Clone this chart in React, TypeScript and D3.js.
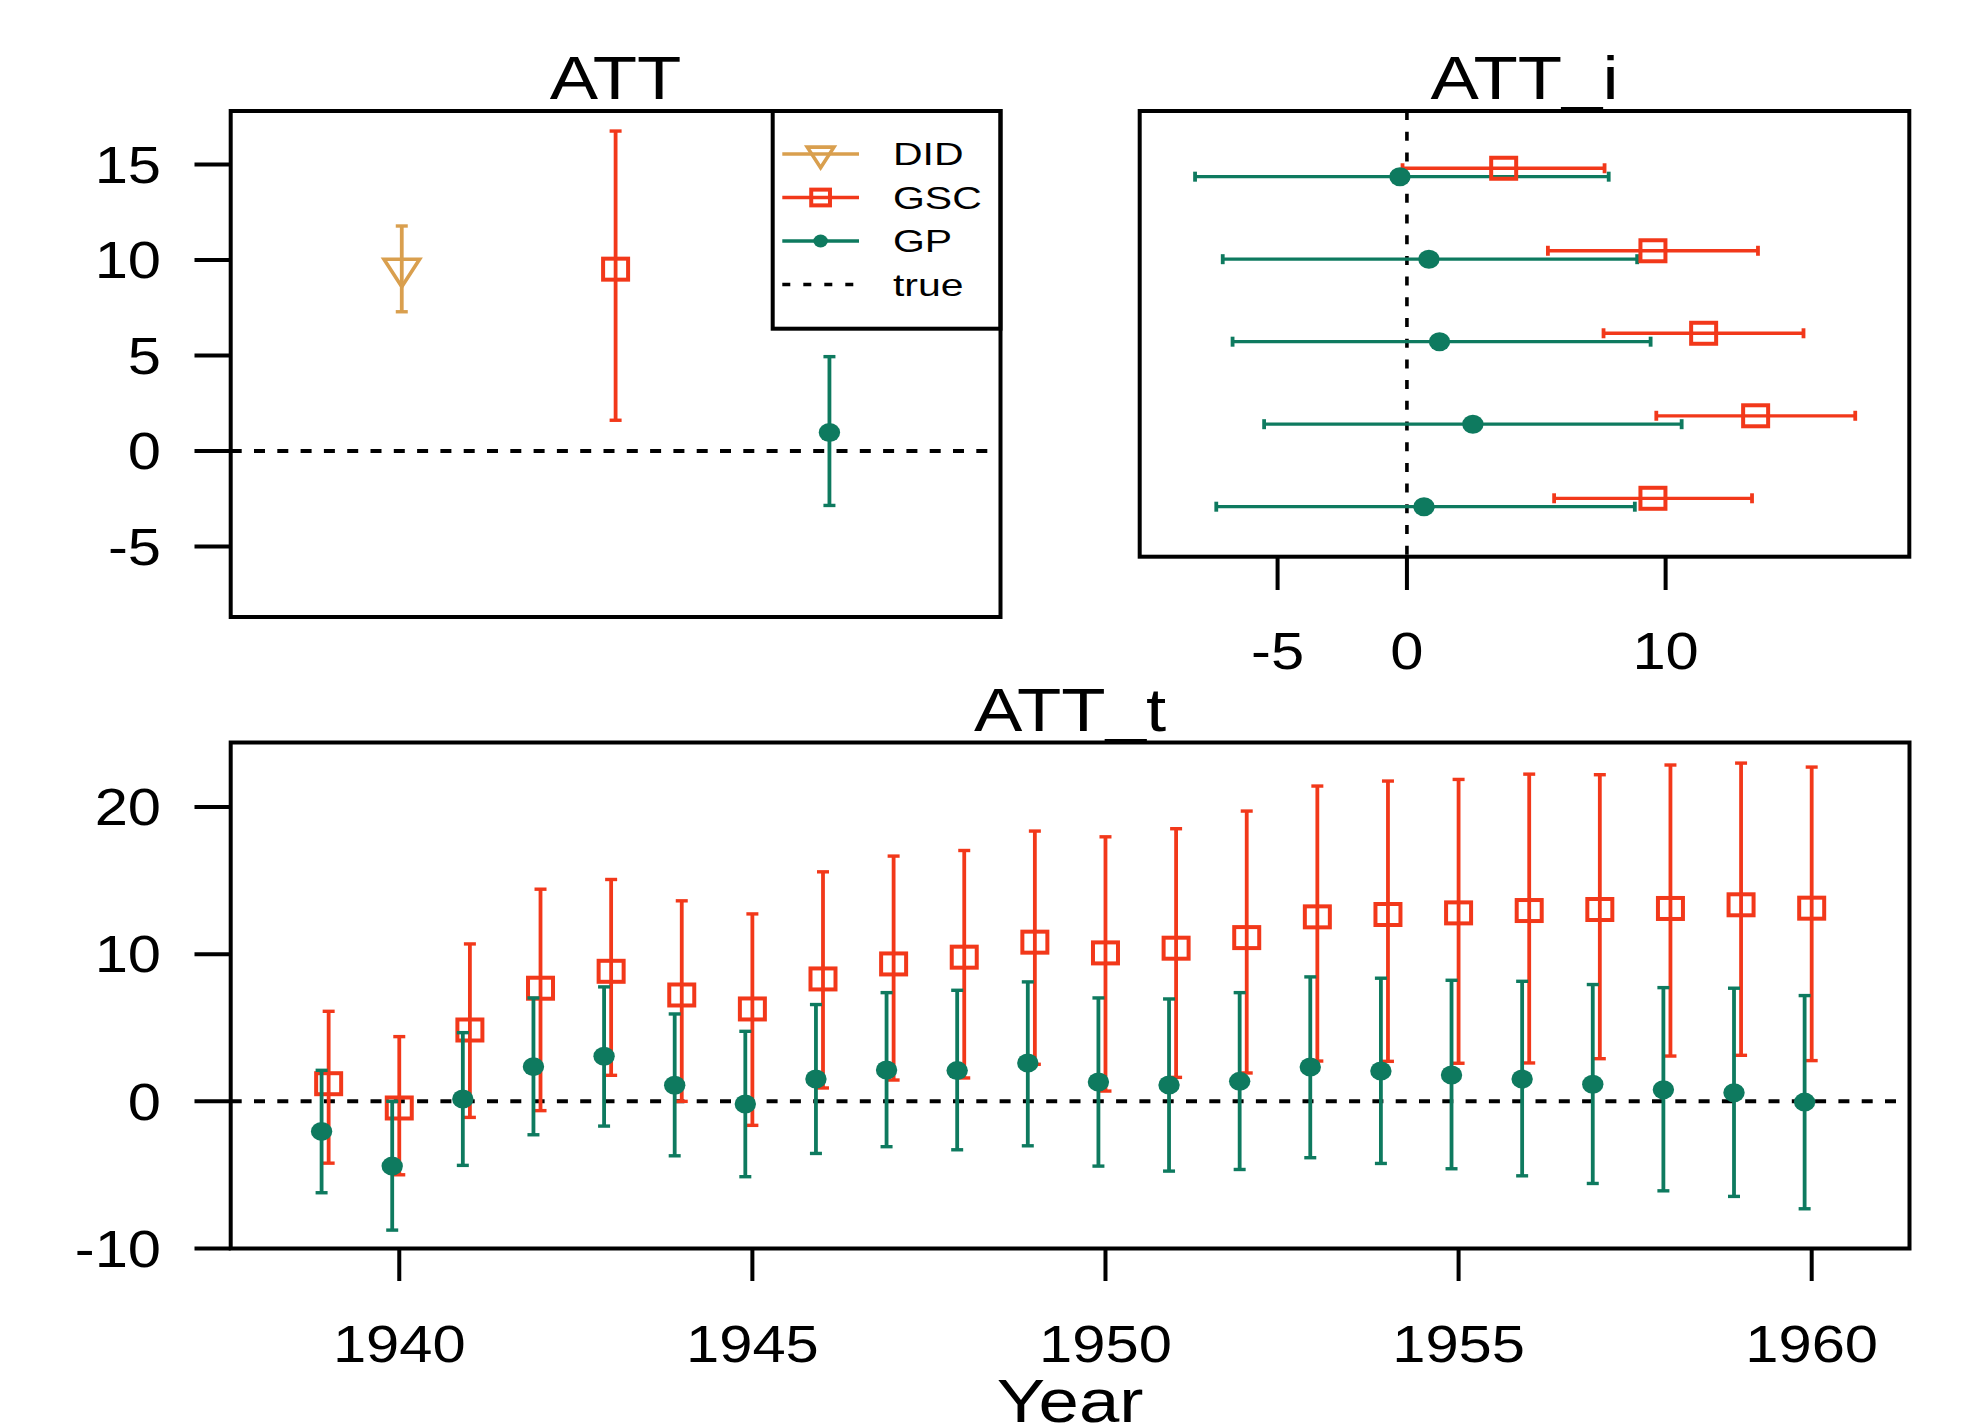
import React from "react";
import * as d3 from "d3";

// ---------- data ----------
const attMethods = ["DID", "GSC", "GP"];
const attEst = [9.56, 9.52, 0.97];
const attLo = [7.29, 1.61, -2.85];
const attHi = [11.78, 16.75, 4.94];

const units = [1, 2, 3, 4, 5];
const gscIEst = [3.74, 9.51, 11.47, 13.48, 9.51];
const gscILo = [-0.17, 5.45, 7.6, 9.64, 5.69];
const gscIHi = [7.64, 13.57, 15.33, 17.33, 13.34];
const gpIEst = [-0.27, 0.85, 1.26, 2.55, 0.66];
const gpILo = [-8.19, -7.12, -6.74, -5.52, -7.37];
const gpIHi = [7.8, 8.9, 9.42, 10.62, 8.81];

const years = [1939, 1940, 1941, 1942, 1943, 1944, 1945, 1946, 1947, 1948, 1949, 1950, 1951, 1952, 1953, 1954, 1955, 1956, 1957, 1958, 1959, 1960];
const gscTEst = [1.2, -0.45, 4.85, 7.69, 8.84, 7.23, 6.28, 8.32, 9.34, 9.8, 10.82, 10.09, 10.41, 11.13, 12.54, 12.7, 12.81, 12.97, 13.04, 13.11, 13.36, 13.13];
const gscTLo = [-4.2, -4.99, -1.09, -0.63, 1.77, 0.0, -1.63, 0.91, 1.45, 1.59, 2.52, 0.7, 1.63, 1.93, 2.74, 2.72, 2.59, 2.61, 2.9, 3.08, 3.13, 2.77];
const gscTHi = [6.12, 4.4, 10.7, 14.42, 15.08, 13.63, 12.74, 15.6, 16.67, 17.05, 18.37, 17.98, 18.53, 19.73, 21.43, 21.77, 21.88, 22.24, 22.2, 22.86, 22.99, 22.72];
const gpTEst = [-2.04, -4.4, 0.16, 2.36, 3.06, 1.09, -0.18, 1.52, 2.13, 2.09, 2.61, 1.32, 1.11, 1.36, 2.34, 2.06, 1.79, 1.52, 1.16, 0.79, 0.59, -0.05];
const gpTLo = [-6.21, -8.75, -4.35, -2.27, -1.68, -3.7, -5.12, -3.54, -3.08, -3.29, -3.02, -4.4, -4.74, -4.63, -3.83, -4.22, -4.58, -5.06, -5.58, -6.08, -6.46, -7.3];
const gpTHi = [2.11, 0.0, 4.67, 7.03, 7.78, 5.94, 4.76, 6.58, 7.39, 7.55, 8.12, 7.03, 6.96, 7.39, 8.46, 8.37, 8.23, 8.16, 7.94, 7.73, 7.69, 7.19];

const attYTicks = [-5, 0, 5, 10, 15];
const attIXTicks = [-5, 0, 10];
const attTYTicks = [-10, 0, 10, 20];
const attTXTicks = [1940, 1945, 1950, 1955, 1960];
const legendLabels = ["DID", "GSC", "GP", "true"];
const trueEffect = 0;

// ---------- style ----------
const C_DID = "#D99F4E";
const C_GSC = "#F2381A";
const C_GP = "#0E7A5F";
const FONT = "'Liberation Sans', Arial, Helvetica, sans-serif";
const AX_FS = 51;
const TITLE_FS = 62;
const SX = 1.17;

function Txt({ x, y, fs, anchor = "middle", sx = SX, children }: any) {
  return (
    <text
      transform={`translate(${x},${y}) scale(${sx},1)`}
      textAnchor={anchor}
      fontSize={fs}
      fontFamily={FONT}
      fill="#000"
    >
      {children}
    </text>
  );
}

function VBar({ x, y1, y2, color }: any) {
  return (
    <g stroke={color} fill="none">
      <line x1={x} x2={x} y1={y1} y2={y2} strokeWidth={3.8} />
      <line x1={x - 6} x2={x + 6} y1={y1} y2={y1} strokeWidth={3.4} />
      <line x1={x - 6} x2={x + 6} y1={y2} y2={y2} strokeWidth={3.4} />
    </g>
  );
}

function HBar({ y, x1, x2, color }: any) {
  return (
    <g stroke={color} fill="none">
      <line x1={x1} x2={x2} y1={y} y2={y} strokeWidth={3.3} />
      <line x1={x1} x2={x1} y1={y - 5} y2={y + 5} strokeWidth={3.8} />
      <line x1={x2} x2={x2} y1={y - 5} y2={y + 5} strokeWidth={3.8} />
    </g>
  );
}

function Sq({ x, y, s = 1 }: any) {
  const w = 25 * s, h = 21 * s;
  return <rect x={x - w / 2} y={y - h / 2} width={w} height={h} fill="none" stroke={C_GSC} strokeWidth={4} />;
}
function Dot({ x, y, s = 1 }: any) {
  return <ellipse cx={x} cy={y} rx={10.7 * s} ry={9.5 * s} fill={C_GP} />;
}
function Tri({ x, y, s = 1 }: any) {
  const r = 18.3 * s, hw = 17.8 * s;
  const p = `${x},${y + r} ${x + hw},${y - r / 2} ${x - hw},${y - r / 2}`;
  return <polygon points={p} fill="none" stroke={C_DID} strokeWidth={3.6} strokeLinejoin="miter" />;
}

export default function App() {
  // ---------- panel ATT ----------
  const A = { l: 230.7, t: 111, r: 1000.5, b: 617 };
  const ax = d3.scaleLinear().domain([0.2, 3.8]).range([A.l, A.r]);
  const ay = d3.scaleLinear().domain([-8.69, 17.8]).range([A.b, A.t]);
  const attColors = [C_DID, C_GSC, C_GP];

  // ---------- panel ATT_i ----------
  const B = { l: 1139.7, t: 111, r: 1909.3, b: 556.7 };
  const bx = d3.scaleLinear().domain([-10.33, 19.42]).range([B.l, B.r]);
  const by = d3.scaleLinear().domain([0.255, 5.657]).range([B.t, B.b]);

  // ---------- panel ATT_t ----------
  const T = { l: 230.7, t: 742.5, r: 1909.5, b: 1248.5 };
  const tx = d3.scaleLinear().domain([1937.613, 1961.385]).range([T.l, T.r]);
  const ty = d3.scaleLinear().domain([-10, 24.39]).range([T.b, T.t]);

  // legend layout
  const L = { l: 772.7, t: 111, r: 1000.5, b: 328.7 };
  const legY = (i: number) => 154 + i * 43.5;
  const legX1 = 782.3, legX2 = 859, legXm = 820.6, legTx = 893;

  return (
    <div style={{ position: "absolute", left: 0, top: 0 }}>
      <svg width={1966} height={1424} style={{ display: "block", background: "#fff" }}>
        <rect x={0} y={0} width={1966} height={1424} fill="#fff" />

        {/* ================= ATT ================= */}
        <Txt x={(A.l + A.r) / 2} y={99.3} fs={TITLE_FS}>ATT</Txt>
        <line x1={A.l} x2={A.r} y1={ay(trueEffect)} y2={ay(trueEffect)} stroke="#000" strokeWidth={4} strokeDasharray="11 12.3" />
        {attMethods.map((m, i) => (
          <VBar key={m} x={ax(i + 1)} y1={ay(attHi[i])} y2={ay(attLo[i])} color={attColors[i]} />
        ))}
        <Tri x={ax(1)} y={ay(attEst[0])} />
        <Sq x={ax(2)} y={ay(attEst[1])} />
        <Dot x={ax(3)} y={ay(attEst[2])} />
        {attYTicks.map((v) => (
          <g key={v}>
            <line x1={194.5} x2={A.l} y1={ay(v)} y2={ay(v)} stroke="#000" strokeWidth={4} />
            <Txt x={161} y={ay(v) + 0.358 * AX_FS} fs={AX_FS} anchor="end">{String(v)}</Txt>
          </g>
        ))}
        {/* legend */}
        <rect x={L.l} y={L.t} width={L.r - L.l} height={L.b - L.t} fill="#fff" stroke="#000" strokeWidth={4} />
        <line x1={legX1} x2={legX2} y1={legY(0)} y2={legY(0)} stroke={C_DID} strokeWidth={3.4} />
        <Tri x={legXm} y={legY(0)} s={0.75} />
        <line x1={legX1} x2={legX2} y1={legY(1)} y2={legY(1)} stroke={C_GSC} strokeWidth={3.4} />
        <Sq x={legXm} y={legY(1)} s={0.75} />
        <line x1={legX1} x2={legX2} y1={legY(2)} y2={legY(2)} stroke={C_GP} strokeWidth={3.4} />
        <Dot x={legXm} y={legY(2)} s={0.68} />
        <line x1={legX1} x2={legX2} y1={legY(3)} y2={legY(3)} stroke="#000" strokeWidth={3.6} strokeDasharray="8 13" />
        {legendLabels.map((lab, i) => (
          <Txt key={lab} x={legTx} y={legY(i) + 0.358 * 31.5} fs={31.5} anchor="start" sx={1.3}>{lab}</Txt>
        ))}
        <rect x={A.l} y={A.t} width={A.r - A.l} height={A.b - A.t} fill="none" stroke="#000" strokeWidth={4} />

        {/* ================= ATT_i ================= */}
        <Txt x={(B.l + B.r) / 2} y={99.3} fs={TITLE_FS}>ATT_i</Txt>
        <line x1={bx(trueEffect)} x2={bx(trueEffect)} y1={B.t} y2={B.b} stroke="#000" strokeWidth={3.6} strokeDasharray="9 11.7" />
        {units.map((u, i) => (
          <g key={u}>
            <HBar y={by(u - 0.051)} x1={bx(gscILo[i])} x2={bx(gscIHi[i])} color={C_GSC} />
            <HBar y={by(u + 0.051)} x1={bx(gpILo[i])} x2={bx(gpIHi[i])} color={C_GP} />
            <Sq x={bx(gscIEst[i])} y={by(u - 0.051)} />
            <Dot x={bx(gpIEst[i])} y={by(u + 0.051)} />
          </g>
        ))}
        <rect x={B.l} y={B.t} width={B.r - B.l} height={B.b - B.t} fill="none" stroke="#000" strokeWidth={4} />
        {attIXTicks.map((v) => (
          <g key={v}>
            <line x1={bx(v)} x2={bx(v)} y1={B.b} y2={590} stroke="#000" strokeWidth={4} />
            <Txt x={bx(v)} y={651 + 0.358 * AX_FS} fs={AX_FS}>{String(v)}</Txt>
          </g>
        ))}

        {/* ================= ATT_t ================= */}
        <Txt x={(T.l + T.r) / 2} y={731} fs={TITLE_FS}>ATT_t</Txt>
        <line x1={T.l} x2={T.r} y1={ty(trueEffect)} y2={ty(trueEffect)} stroke="#000" strokeWidth={4} strokeDasharray="11 12.3" />
        {years.map((yr, i) => (
          <g key={yr}>
            <VBar x={tx(yr)} y1={ty(gscTHi[i])} y2={ty(gscTLo[i])} color={C_GSC} />
            <Sq x={tx(yr)} y={ty(gscTEst[i])} />
          </g>
        ))}
        {years.map((yr, i) => (
          <g key={"gp" + yr}>
            <VBar x={tx(yr - 0.1)} y1={ty(gpTHi[i])} y2={ty(gpTLo[i])} color={C_GP} />
            <Dot x={tx(yr - 0.1)} y={ty(gpTEst[i])} />
          </g>
        ))}
        <rect x={T.l} y={T.t} width={T.r - T.l} height={T.b - T.t} fill="none" stroke="#000" strokeWidth={4} />
        {attTYTicks.map((v) => (
          <g key={v}>
            <line x1={194.5} x2={T.l} y1={ty(v)} y2={ty(v)} stroke="#000" strokeWidth={4} />
            <Txt x={161} y={ty(v) + 0.358 * AX_FS} fs={AX_FS} anchor="end">{String(v)}</Txt>
          </g>
        ))}
        {attTXTicks.map((v) => (
          <g key={v}>
            <line x1={tx(v)} x2={tx(v)} y1={T.b} y2={1281} stroke="#000" strokeWidth={4} />
            <Txt x={tx(v)} y={1344 + 0.358 * AX_FS} fs={AX_FS}>{String(v)}</Txt>
          </g>
        ))}
        <Txt x={(T.l + T.r) / 2} y={1422} fs={TITLE_FS}>Year</Txt>
      </svg>
    </div>
  );
}
